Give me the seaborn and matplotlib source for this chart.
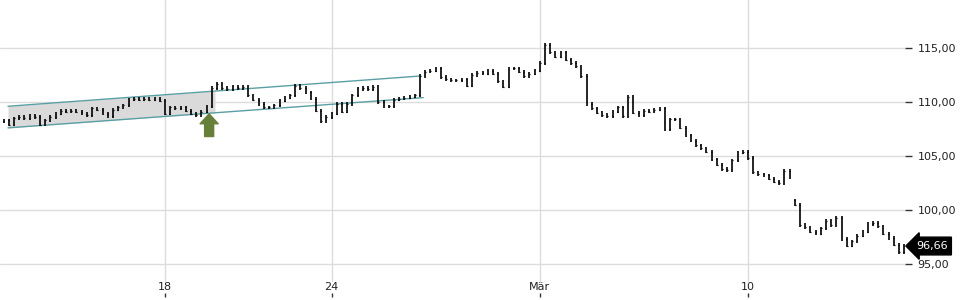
import matplotlib
matplotlib.use("Agg")
import matplotlib.pyplot as plt
import matplotlib.transforms as mtransforms
import numpy as np
import pandas as pd
import seaborn as sns

# ---- data ----
close = [
    # day 0
    108.2, 108.3, 107.9, 108.5, 108.6, 108.5, 108.7, 108.6,
    # day 1
    107.9, 108.3, 108.6, 108.9, 109.2, 109.1, 109.2, 109.1,
    # day 2
    108.9, 108.8, 109.4, 109.3, 108.9, 108.7, 109.3, 109.5,
    # day 3
    109.7, 110.2, 110.3, 110.2, 110.3, 110.2, 110.3, 110.1,
    # day 4 (18)
    108.9, 109.5, 109.4, 109.5, 109.2, 108.9, 108.8, 109.1,
    # day 5
    109.6, 111.3, 111.7, 111.3, 111.2, 111.4, 111.3, 111.4,
    # day 6
    110.6, 110.2, 109.8, 109.5, 109.5, 109.7, 110.1, 110.4,
    # day 7
    110.6, 111.5, 111.3, 110.9, 110.3, 109.2, 108.2, 108.6,
    # day 8 (24)
    108.9, 109.8, 109.1, 109.8, 110.6, 111.2, 111.3, 111.2,
    # day 9
    111.4, 110.0, 109.6, 109.6, 110.2, 110.3, 110.4, 110.5,
    # day 10
    110.6, 112.4, 112.8, 112.9, 113.1, 112.3, 112.1, 112.0,
    # day 11
    112.0, 112.1, 111.5, 112.5, 112.7, 112.6, 112.9, 112.6,
    # day 12
    111.9, 111.4, 113.1, 113.1, 112.8, 112.4, 112.6, 112.9,
    # day 13 (Mär)
    113.6, 115.3, 114.6, 114.2, 114.6, 113.9, 113.6, 113.3,
    # day 14
    112.4, 109.8, 109.4, 109.0, 108.8, 108.7, 109.1, 109.5,
    # day 15
    108.7, 110.5, 109.0, 108.8, 109.2, 109.1, 109.3, 109.4,
    # day 16
    107.5, 108.4, 108.4, 107.6, 106.9, 106.4, 106.0, 105.7,
    # day 17
    105.4, 104.7, 104.2, 103.8, 103.7, 104.6, 105.3, 105.4,
    # day 18 (10)
    104.8, 103.5, 103.3, 103.2, 102.9, 102.6, 102.5, 103.6,
    # day 19
    103.0, 100.5, 98.6, 98.4, 98.0, 97.8, 98.3, 99.0,
    # day 20
    98.6, 99.3, 97.3, 96.7, 97.1, 97.6, 98.0, 98.7,
    # day 21
    98.8, 98.5, 97.8, 97.4, 96.8, 96.1, 96.66,
]
gap_open = {153: 100.9}          # bar that opens after a price gap
bars_per_day = 8
last_price = 96.66

tick_days = [4, 8, 13, 18]
tick_labels = ["18", "24", "Mär", "10"]
y_ticks = [95, 100, 105, 110, 115]

channel_x = [0.23, 10.12]
channel_upper = [109.6, 112.4]
channel_lower_x = [0.23, 10.2]
channel_lower = [107.6, 110.4]
box_end_day = 5.2
arrow_day = 5.06
arrow_tip = 108.9
arrow_base = 106.8

# ---- figure ----
sns.set_style("white")
plt.rcParams["font.family"] = ["DejaVu Sans"]
fig = plt.figure(figsize=(9.6, 3.0), dpi=100)
ax = fig.add_axes([0, 3 / 300, 905 / 960, 297 / 300])

n = len(close)
days = np.arange(n) / bars_per_day
opens = [close[0]] + close[:-1]
for k, v in gap_open.items():
    opens[k] = v
df = pd.DataFrame({"day": days, "open": opens, "close": close})
df["high"] = df[["open", "close"]].max(axis=1) + 0.15
df["low"] = df[["open", "close"]].min(axis=1) - 0.15

# gridlines
for yv in y_ticks:
    ax.axhline(yv, color="#dcdcdc", lw=1, zorder=0)
for xv in tick_days:
    ax.axvline(xv, ymin=16 / 297, ymax=1, color="#dcdcdc", lw=1, zorder=0)

# channel shading + lines
chan = pd.DataFrame({"day": channel_x, "upper": channel_upper})
chan_lo = pd.DataFrame({"day": channel_lower_x, "lower": channel_lower})
bx = np.array([channel_x[0], box_end_day])
up_slope = (channel_upper[1] - channel_upper[0]) / (channel_x[1] - channel_x[0])
lo_slope = (channel_lower[1] - channel_lower[0]) / (channel_lower_x[1] - channel_lower_x[0])
ub = channel_upper[0] + up_slope * (bx - channel_x[0])
lb = channel_lower[0] + lo_slope * (bx - channel_lower_x[0])
ax.fill_between(bx, lb, ub, color="#dadada", zorder=1, lw=0)
sns.lineplot(data=chan, x="day", y="upper", ax=ax, color="#5a9fa3", lw=1.0, zorder=2)
sns.lineplot(data=chan_lo, x="day", y="lower", ax=ax, color="#5a9fa3", lw=1.0, zorder=2)

# OHLC bars
tk = 0.018
ax.vlines(df["day"], df["low"], df["high"], color="black", lw=1.2, zorder=3)
ax.hlines(df["open"], df["day"] - tk, df["day"], color="black", lw=0.9, zorder=3)
ax.hlines(df["close"], df["day"], df["day"] + tk, color="black", lw=0.9, zorder=3)

# green arrow
ax.annotate("", xy=(arrow_day, arrow_tip), xytext=(arrow_day, arrow_base),
            arrowprops=dict(arrowstyle="simple,head_length=0.55,head_width=1.0,tail_width=0.5",
                            color="#66803a", mutation_scale=13, shrinkA=0, shrinkB=0),
            zorder=4)

# axes limits / ticks
ax.set_xlim(0.038, 21.77)
ax.set_ylim(91.94, 119.44)
for s in ax.spines.values():
    s.set_visible(False)
ax.yaxis.tick_right()
ax.set_yticks(y_ticks)
ax.set_yticklabels([f"{v:.2f}".replace(".", ",") for v in y_ticks])
ax.tick_params(axis="y", length=5, width=1, color="#333333", pad=4,
               labelsize=8, labelcolor="#222222", right=True)
ax.set_xticks(tick_days)
ax.set_xticklabels([])
ax.tick_params(axis="x", direction="in", length=3, width=1, color="#333333", bottom=True)
trans = mtransforms.blended_transform_factory(ax.transData, ax.transAxes)
for d, lab in zip(tick_days, tick_labels):
    ax.text(d, 10 / 297, lab, transform=trans, ha="center", va="center",
            fontsize=8, color="#222222")
ax.set_xlabel("")
ax.set_ylabel("")
ax.grid(False)

# last price tag
trans2 = mtransforms.blended_transform_factory(ax.transAxes, ax.transData)
ax.text(1.012, last_price, f"{last_price:.2f}".replace(".", ","), transform=trans2,
        ha="left", va="center", fontsize=8, color="white", zorder=6,
        bbox=dict(boxstyle="larrow,pad=0.35", fc="black", ec="black"))

fig.savefig("out.png", dpi=100)
